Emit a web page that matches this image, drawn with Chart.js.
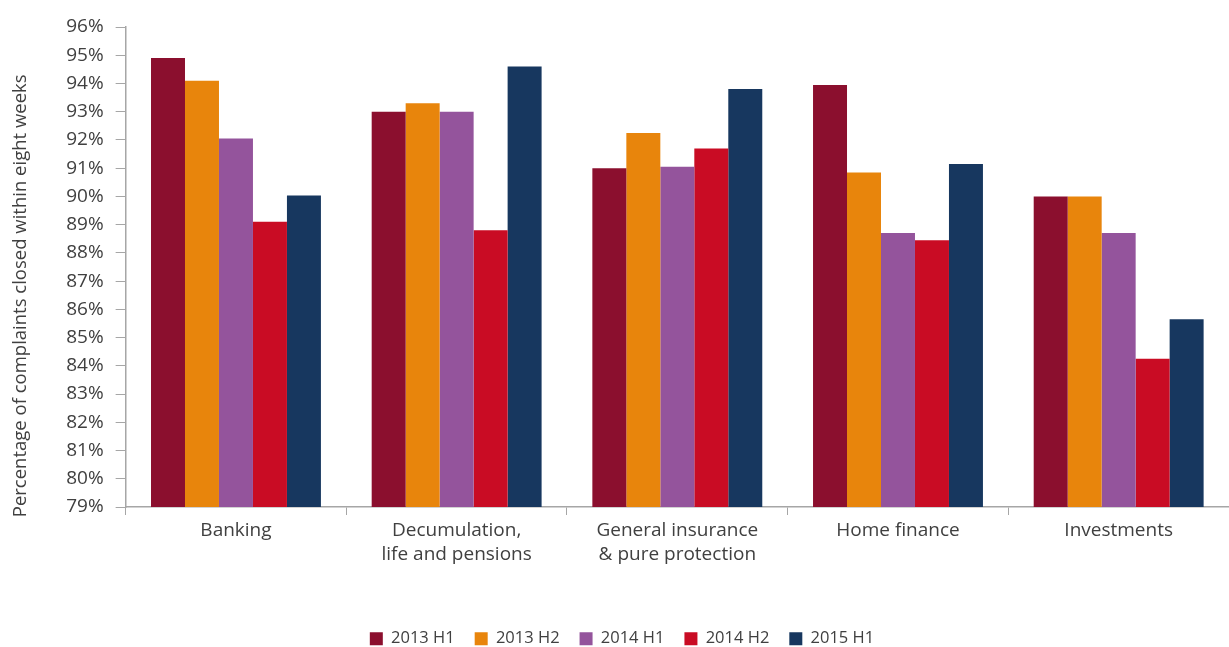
<!DOCTYPE html>
<html>
<head>
<meta charset="utf-8">
<script src="https://cdn.jsdelivr.net/npm/chart.js@4"></script>
<style>
	body { margin: 0; background: #fff; }
	#wrap { width: 1229px; height: 647px; }
</style>
</head>
<body>
<div id="wrap"><canvas id="statsChart"></canvas></div>
<script>
// Dane
const categories = [
	'Banking',
	['Decumulation,', 'life and pensions'],
	['General insurance', '& pure protection'],
	'Home finance',
	'Investments',
];
const h1_2013 = [94.9, 93.0, 91.0, 93.95, 90.0];
const h2_2013 = [94.1, 93.3, 92.25, 90.85, 90.0];
const h1_2014 = [92.05, 93.0, 91.05, 88.7, 88.7];
const h2_2014 = [89.1, 88.8, 91.7, 88.45, 84.25];
const h1_2015 = [90.03, 94.6, 93.8, 91.15, 85.65];
const seriesLabels = ['2013 H1', '2013 H2', '2014 H1', '2014 H2', '2015 H1'];
const colors = ['#8b0f2e', '#e8850c', '#94549c', '#c90c24', '#17375f'];
const yMin = 79;
const yMax = 96;

const font = 'Open Sans';
const textColor = '#404040';
const axisColor = '#a6a6a6';

const ctx = document.getElementById('statsChart').getContext('2d');

new Chart(ctx, {
	type: 'bar',
	data: {
		labels: categories,
		datasets: [h1_2013, h2_2013, h1_2014, h2_2014, h1_2015].map((data, i) => ({
			label: seriesLabels[i],
			data,
			backgroundColor: colors[i],
			borderWidth: 0,
			categoryPercentage: 0.77,
			barPercentage: 1,
		})),
	},
	options: {
		responsive: true,
		maintainAspectRatio: false,
		animation: false,
		layout: { padding: { top: 27, right: -7, left: 8, bottom: -10 } },
		plugins: {
			tooltip: { enabled: false },
			legend: {
				position: 'bottom',
				labels: {
					boxWidth: 13,
					boxHeight: 13,
					padding: 20,
					color: textColor,
					font: { family: font, size: 16.5 },
				},
			},
		},
		scales: {
			y: {
				min: yMin,
				max: yMax,
				ticks: {
					stepSize: 1,
					autoSkip: false,
					color: textColor,
					font: { family: font, size: 19 },
					padding: 12,
					callback: (v) => v + '%',
				},
				grid: {
					drawOnChartArea: false,
					drawTicks: true,
					tickLength: 10,
					color: axisColor,
				},
				border: { color: axisColor, width: 1.5 },
				title: {
					display: true,
					// spacje na końcu przesuwają tytuł w dół, jak w oryginale
					text: 'Percentage of complaints closed within eight weeks            ',
					color: textColor,
					font: { family: font, size: 18.5 },
					padding: { top: 2, bottom: 22 },
				},
			},
			x: {
				ticks: {
					color: textColor,
					font: { family: font, size: 19, lineHeight: 1.25 },
					padding: 4,
					maxRotation: 0,
				},
				grid: {
					offset: true,
					drawOnChartArea: false,
					drawTicks: true,
					tickLength: 8,
					color: axisColor,
				},
				border: { color: axisColor, width: 1.5 },
				afterFit: (scale) => {
					scale.height += 40;
				},
			},
		},
	},
});
</script>
</body>
</html>
